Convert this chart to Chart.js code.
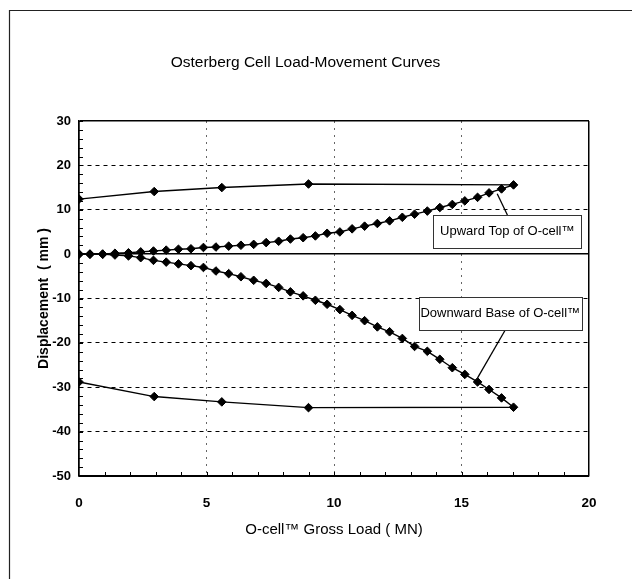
<!DOCTYPE html>
<html>
<head>
<meta charset="utf-8">
<script src="https://cdn.jsdelivr.net/npm/chart.js@4/dist/chart.umd.min.js"></script>
<style>
  html, body { margin: 0; padding: 0; background: #fff; }
  #wrap { width: 632px; height: 579px; }
</style>
</head>
<body>
<div id="wrap"><canvas id="ocellChart" width="632" height="579"></canvas></div>
<script>
// O-cell gross load (MN) for each loading step
var loadSteps = [0, 0.43, 0.93, 1.41, 1.94, 2.42, 2.92, 3.42, 3.90, 4.39, 4.88, 5.37,
    5.87, 6.35, 6.85, 7.34, 7.83, 8.29, 8.79, 9.27, 9.73, 10.23, 10.71, 11.20,
    11.70, 12.18, 12.68, 13.16, 13.66, 14.15, 14.64, 15.13, 15.63, 16.08, 16.57, 17.04];
// upward movement of the top of the cell (mm)
var topLoading = [0, 0, 0, 0.2, 0.3, 0.5, 0.7, 0.9, 1.1, 1.2, 1.5, 1.6,
    1.8, 2.0, 2.2, 2.6, 2.9, 3.4, 3.7, 4.1, 4.7, 5.0, 5.7, 6.3,
    6.9, 7.5, 8.3, 9.0, 9.7, 10.5, 11.2, 12.0, 12.8, 13.8, 14.7, 15.6];
// downward movement of the base of the cell (mm)
var baseLoading = [0, 0, 0, -0.2, -0.4, -0.8, -1.4, -1.8, -2.2, -2.6, -3.0, -3.8,
    -4.4, -5.1, -5.9, -6.6, -7.5, -8.5, -9.4, -10.4, -11.3, -12.5, -13.8, -15.0,
    -16.4, -17.5, -19.0, -20.8, -21.9, -23.7, -25.6, -27.1, -28.8, -30.5, -32.4, -34.5];
// unloading steps
var unloadSteps = [9.0, 5.6, 2.95, 0];
var topUnloading = [15.8, 15.0, 14.1, 12.4];
var baseUnloading = [-34.6, -33.3, -32.1, -28.8];

var xTicks = [0, 5, 10, 15, 20];
var yTicks = [30, 20, 10, 0, -10, -20, -30, -40, -50];

var sans = "'Liberation Sans', Arial, sans-serif";

function toPoints(xs, ys) {
    return xs.map(function(x, i) { return { x: x, y: ys[i] }; });
}

// callout boxes, placed in data units
var callouts = [
    { text: 'Upward Top of O-cell\u2122', box: [13.9, 8.8, 19.69, 1.29], from: [16.8, 8.8], to: [16.4, 13.6] },
    { text: 'Downward Base of O-cell\u2122', box: [13.33, -9.64, 19.71, -17.16], from: [16.71, -17.16], to: [15.63, -27.9] }
];

var framePlugin = {
    id: 'frame',
    beforeDraw: function(chart) {
        var ctx = chart.ctx;
        ctx.save();
        ctx.fillStyle = '#fff';
        ctx.fillRect(0, 0, chart.width, chart.height);
        ctx.strokeStyle = '#222';
        ctx.lineWidth = 1.2;
        ctx.beginPath();
        ctx.moveTo(9.5, chart.height);
        ctx.lineTo(9.5, 10.5);
        ctx.lineTo(chart.width, 10.5);
        ctx.stroke();
        ctx.restore();
    },
    afterDraw: function(chart) {
        // minor ticks pointing into the plot
        var ctx = chart.ctx, a = chart.chartArea;
        var xs = chart.scales.x, ys = chart.scales.y;
        ctx.save();
        ctx.strokeStyle = '#000';
        ctx.lineWidth = 1;
        ctx.beginPath();
        for (var v = -50; v <= 30; v += 2) {
            var py = Math.round(ys.getPixelForValue(v)) + 0.5;
            ctx.moveTo(a.left, py);
            ctx.lineTo(a.left + 4, py);
        }
        for (var u = 1; u < 20; u++) {
            var px = Math.round(xs.getPixelForValue(u)) + 0.5;
            ctx.moveTo(px, a.bottom);
            ctx.lineTo(px, a.bottom - 4);
        }
        ctx.stroke();
        ctx.restore();
    }
};

var calloutPlugin = {
    id: 'callouts',
    afterDatasetsDraw: function(chart) {
        var ctx = chart.ctx;
        var xs = chart.scales.x, ys = chart.scales.y;
        ctx.save();
        callouts.forEach(function(c) {
            var l = xs.getPixelForValue(c.box[0]), t = ys.getPixelForValue(c.box[1]);
            var r = xs.getPixelForValue(c.box[2]), b = ys.getPixelForValue(c.box[3]);
            ctx.strokeStyle = '#000';
            ctx.lineWidth = 1.3;
            ctx.beginPath();
            ctx.moveTo(xs.getPixelForValue(c.from[0]), ys.getPixelForValue(c.from[1]));
            ctx.lineTo(xs.getPixelForValue(c.to[0]), ys.getPixelForValue(c.to[1]));
            ctx.stroke();
            ctx.fillStyle = '#fff';
            ctx.fillRect(l, t, r - l, b - t);
            ctx.lineWidth = 1;
            ctx.strokeStyle = '#333';
            ctx.strokeRect(Math.round(l) + 0.5, Math.round(t) + 0.5, Math.round(r - l), Math.round(b - t));
            ctx.fillStyle = '#000';
            ctx.font = '13px ' + sans;
            ctx.textAlign = 'center';
            ctx.textBaseline = 'middle';
            ctx.fillText(c.text, (l + r) / 2, (t + b) / 2);
        });
        ctx.restore();
    }
};

var pointOpts = {
    borderColor: '#000',
    backgroundColor: '#000',
    borderWidth: 1.4,
    pointStyle: 'rectRot',
    pointRadius: 4.3,
    pointBorderWidth: 1,
    tension: 0,
    fill: false
};

var ctx = document.getElementById('ocellChart').getContext('2d');
var chart = new Chart(ctx, {
    type: 'line',
    data: {
        datasets: [
            Object.assign({ label: 'Upward Top of O-cell', data: toPoints(loadSteps, topLoading).concat(toPoints(unloadSteps, topUnloading)) }, pointOpts),
            Object.assign({ label: 'Downward Base of O-cell', data: toPoints(loadSteps, baseLoading).concat(toPoints(unloadSteps, baseUnloading)) }, pointOpts)
        ]
    },
    options: {
        responsive: false,
        animation: false,
        layout: { padding: { top: 0, left: 22, right: 43, bottom: 0 } },
        plugins: {
            legend: { display: false },
            tooltip: { enabled: false },
            title: {
                display: true,
                text: 'Osterberg Cell Load-Movement Curves',
                color: '#000',
                font: { family: sans, size: 15.5, weight: 'normal' },
                padding: { top: 53, bottom: 49.4 }
            }
        },
        scales: {
            x: {
                type: 'linear',
                min: 0,
                max: 20,
                afterFit: function(scale) { scale.height = 103; },
                afterBuildTicks: function(scale) { scale.ticks = xTicks.map(function(v) { return { value: v }; }); },
                ticks: {
                    color: '#000',
                    padding: 19,
                    font: { family: sans, size: 13.5, weight: 'bold' }
                },
                grid: {
                    drawTicks: false,
                    color: function(c) { return c.tick && (c.tick.value === 20 || c.tick.value === 0) ? '#000' : '#666'; },
                    lineWidth: function(c) { return c.tick && (c.tick.value === 20 || c.tick.value === 0) ? 1.5 : 1; }
                },
                border: {
                    color: '#000',
                    width: 1.5,
                    dash: function(c) { return c.tick && (c.tick.value === 20 || c.tick.value === 0) ? [] : [2, 5]; }
                },
                title: {
                    display: true,
                    text: 'O-cell\u2122 Gross Load ( MN)',
                    color: '#000',
                    font: { family: sans, size: 15, weight: 'normal' },
                    padding: { top: 0, bottom: 40 }
                }
            },
            y: {
                type: 'linear',
                min: -50,
                max: 30,
                afterFit: function(scale) { scale.width = 57; },
                afterBuildTicks: function(scale) { scale.ticks = yTicks.map(function(v) { return { value: v }; }); },
                ticks: {
                    color: '#000',
                    padding: 8,
                    font: { family: sans, size: 13, weight: 'bold' }
                },
                grid: {
                    drawTicks: false,
                    color: '#000',
                    lineWidth: function(c) { return c.tick && (c.tick.value === 0 || c.tick.value === 30) ? 1.5 : 1; }
                },
                border: {
                    color: '#000',
                    width: 1.5,
                    dash: function(c) { return c.tick && (c.tick.value === 0 || c.tick.value === 30 || c.tick.value === -50) ? [] : [4, 4]; }
                },
                title: {
                    display: true,
                    text: 'Displacement  ( mm )',
                    color: '#000',
                    font: { family: sans, size: 14, weight: 'bold' },
                    padding: { top: 14, bottom: 0 }
                }
            }
        }
    },
    plugins: [framePlugin, calloutPlugin]
});
</script>
</body>
</html>
